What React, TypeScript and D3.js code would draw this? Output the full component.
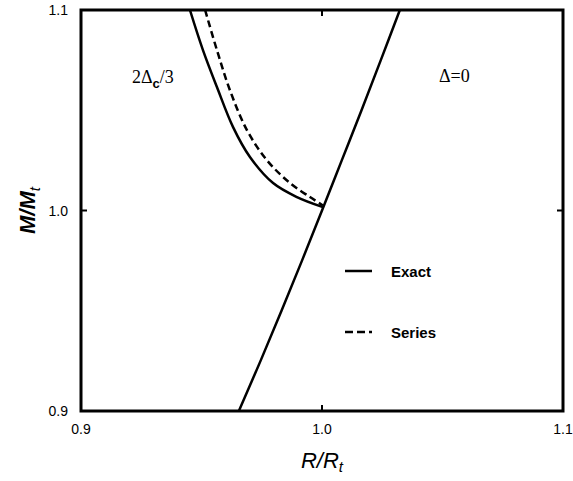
import React from "react";
import * as d3 from "d3";

// values (R/Rt, M/Mt)
const deltaZero: [number, number][] = [
  [0.9655, 0.9],
  [0.9745, 0.925],
  [0.9832, 0.95],
  [0.9917, 0.975],
  [1.0, 1.0],
  [1.0082, 1.025],
  [1.0164, 1.05],
  [1.0244, 1.075],
  [1.0323, 1.1],
];

const exactCurve: [number, number][] = [
  [0.9452, 1.1],
  [0.9506, 1.08],
  [0.9564, 1.0616],
  [0.9631, 1.0416],
  [0.9701, 1.0267],
  [0.9797, 1.0137],
  [0.9896, 1.0067],
  [1.0004, 1.0017],
];

const seriesCurve: [number, number][] = [
  [0.9515, 1.1],
  [0.9564, 1.08],
  [0.9618, 1.06],
  [0.9689, 1.04],
  [0.9772, 1.025],
  [0.9867, 1.0137],
  [0.995, 1.0067],
  [1.0004, 1.0025],
];

const xTicks = [0.9, 1.0, 1.1];
const yTicks = [0.9, 1.0, 1.1];
const legendItems = ["Exact", "Series"];

const W = 573;
const H = 481;
const margin = { left: 81, right: 10, top: 10, bottom: 70 };

export default function App() {
  const x = d3
    .scaleLinear()
    .domain([0.9, 1.1])
    .range([margin.left, W - margin.right]);
  const y = d3
    .scaleLinear()
    .domain([0.9, 1.1])
    .range([H - margin.bottom, margin.top]);

  const line = d3
    .line<[number, number]>()
    .x((d) => x(d[0]))
    .y((d) => y(d[1]))
    .curve(d3.curveCatmullRom);

  const x0 = x(0.9);
  const x1 = x(1.1);
  const y0 = y(0.9);
  const y1 = y(1.1);

  return (
    <svg
      width={W}
      height={H}
      style={{ position: "absolute", left: 0, top: 0, background: "#fff" }}
      fontFamily="'Liberation Sans', Arial, sans-serif"
    >
      <defs>
        <clipPath id="plot">
          <rect x={x0} y={y1} width={x1 - x0} height={y0 - y1} />
        </clipPath>
      </defs>

      <g clipPath="url(#plot)" fill="none" stroke="#000" strokeWidth={2.5}>
        <path d={line(deltaZero) || ""} />
        <path d={line(exactCurve) || ""} />
        <path d={line(seriesCurve) || ""} strokeDasharray="7,4" />
      </g>

      {/* frame */}
      <rect
        x={x0}
        y={y1}
        width={x1 - x0}
        height={y0 - y1}
        fill="none"
        stroke="#000"
        strokeWidth={3}
      />

      {/* inward ticks at 1.0 */}
      <g stroke="#000" strokeWidth={2}>
        <line x1={x(1.0)} x2={x(1.0)} y1={y0} y2={y0 - 6} />
        <line x1={x(1.0)} x2={x(1.0)} y1={y1} y2={y1 + 6} />
        <line x1={x0} x2={x0 + 6} y1={y(1.0)} y2={y(1.0)} />
        <line x1={x1} x2={x1 - 6} y1={y(1.0)} y2={y(1.0)} />
      </g>

      {xTicks.map((t) => (
        <text key={"x" + t} x={x(t)} y={y0 + 23} textAnchor="middle" fontSize={14}>
          {t.toFixed(1)}
        </text>
      ))}
      {yTicks.map((t) => (
        <text
          key={"y" + t}
          x={x0 - 13}
          y={y(t) + 5}
          textAnchor="end"
          fontSize={14}
        >
          {t.toFixed(1)}
        </text>
      ))}

      {/* axis titles */}
      <text x={x(1.0)} y={y0 + 57} textAnchor="middle" fontSize={22} fontStyle="italic">
        R/R
        <tspan fontSize={15} dy={4}>t</tspan>
      </text>
      <text
        transform={`translate(35, ${y(1.0)}) rotate(-90)`}
        textAnchor="middle"
        fontSize={22}
        fontStyle="italic"
        fontWeight="bold"
      >
        M/M
        <tspan fontSize={15} dy={5} fontWeight="normal">t</tspan>
      </text>

      {/* curve labels */}
      <text x={132} y={83} fontSize={18} fontFamily="'Liberation Serif', 'Times New Roman', serif">
        2Δ
        <tspan fontSize={13} dy={5} fontFamily="'Liberation Sans', Arial, sans-serif" fontWeight="bold">c</tspan>
        <tspan dy={-5}>/3</tspan>
      </text>
      <text x={439} y={82} fontSize={18} fontFamily="'Liberation Serif', 'Times New Roman', serif">
        Δ=0
      </text>

      {/* legend */}
      {legendItems.map((name, i) => (
        <g key={name} transform={`translate(345, ${271 + i * 61})`}>
          <line
            x1={0}
            x2={27}
            y1={0}
            y2={0}
            stroke="#000"
            strokeWidth={2.5}
            strokeDasharray={i === 1 ? "8,4" : undefined}
          />
          <text x={46} y={6} fontSize={15} fontWeight="bold">
            {name}
          </text>
        </g>
      ))}
    </svg>
  );
}
